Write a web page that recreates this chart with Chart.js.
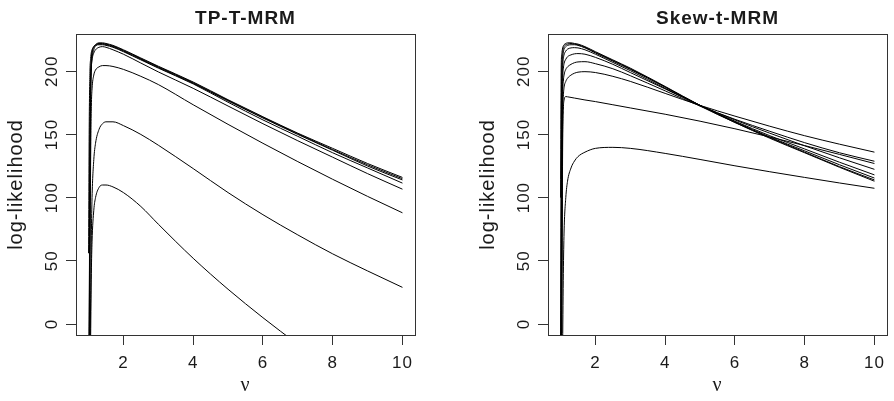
<!DOCTYPE html>
<html>
<head>
<meta charset="utf-8">
<script src="https://cdn.jsdelivr.net/npm/chart.js@4.4.1/dist/chart.umd.min.js"></script>
<style>
  html, body { margin: 0; padding: 0; background: #fff; width: 894px; height: 401px; overflow: hidden; }
  canvas { position: absolute; top: 0; }
  #tp { left: 0; }
  #skew { left: 472px; }
</style>
</head>
<body>
<canvas id="tp" width="422" height="401"></canvas>
<canvas id="skew" width="422" height="401"></canvas>
<script>
// degrees of freedom grid (nu)
const nu = [1.0, 1.02, 1.04, 1.06, 1.08, 1.1, 1.15, 1.2, 1.3, 1.4, 1.5, 1.7, 2, 2.5, 3, 4, 5, 6, 7, 8, 9, 10];
const xTicks = [2, 4, 6, 8, 10];
const yTicks = [0, 50, 100, 150, 200];

// TP-T-MRM log-likelihood profiles
const tpA = [-80, -20, 120, 190, 208, 214, 219, 221, 222.5, 222.5, 222, 220.5, 217, 210.5, 204, 191.5, 177.5, 164, 151, 139, 127, 116];
const tpB = [-60, 10, 150, 196, 210, 215.5, 219.5, 221, 222, 222, 221.5, 220, 216.5, 210, 203.5, 191, 177, 163.5, 150.5, 138, 126, 115];
const tpC = [-90, -40, 90, 175, 202, 210, 217, 220, 221.5, 221.5, 221, 219.5, 216, 209.5, 203, 190.5, 176.5, 163, 150, 137.5, 125, 114];
const tpD = [56, 160, 200, 210, 215, 217, 219.5, 220.5, 221, 221, 220.5, 219, 215.5, 209, 202.5, 190, 175.5, 161.5, 148.5, 135.5, 123.5, 111.5];
const tpE = [-70, 0, 130, 185, 203, 209, 214.5, 217, 219, 219.5, 219, 217, 213.5, 206.5, 199.5, 186.5, 172.5, 158.5, 145, 132, 119, 106.7];
const tpF = [-100, -50, 40, 130, 172, 186, 197, 201, 203.5, 204.5, 204.5, 203.8, 201.5, 196, 189.5, 173.5, 158, 143, 128.5, 114.5, 101, 88];
const tpG = [-120, -80, -30, 20, 70, 100, 130, 143, 154, 158.5, 160, 160, 157, 150, 141.5, 123, 104, 86.5, 70.5, 55.5, 42, 29];
const tpH = [-150, -110, -60, -10, 40, 65, 90, 100, 108, 110, 110, 108.5, 104, 93, 79, 52, 27.5, 5, -16, -36, -54, -71];

// Skew-t-MRM log-likelihood profiles
const stA = [100, 205, 215, 218.5, 220, 221, 222, 222.5, 222.5, 222, 221.5, 219.5, 215.5, 209, 202.5, 188, 173, 159.5, 147, 135.5, 124, 113];
const stB = [-40, 150, 205, 214, 218, 219.5, 221, 221.5, 222, 221.5, 221, 219, 215, 208.5, 202, 187.5, 172.5, 159.5, 147.5, 136, 124.5, 114];
const stC = [-80, 90, 195, 210, 215, 217.5, 219.5, 220.5, 221, 221, 220.5, 218.5, 214.5, 208, 201.5, 187.5, 173, 160, 148, 137, 126, 115.5];
const stD = [-100, 40, 180, 203, 210, 213, 216, 217.5, 218.5, 218.7, 218.5, 217, 213.5, 207, 200.5, 186.5, 173, 160.5, 149, 138.5, 128, 118];
const stE = [-120, -20, 150, 192, 202, 206, 209.5, 211.5, 213, 213.8, 214, 213.5, 211, 205.5, 199, 186, 173, 161.5, 151, 141, 131.5, 122.4];
const stF = [-140, -60, 110, 178, 192, 197, 201.5, 203.5, 205.5, 206.8, 207.4, 207.6, 206, 202, 196.5, 184.5, 172.5, 162, 152.5, 143.5, 135.5, 128.8];
const stG = [-160, -90, 60, 160, 180, 187, 192, 194.5, 197, 198.5, 199.3, 199.7, 199, 196, 192, 182.5, 173, 164.5, 156.5, 149, 142.3, 136];
const stH = [-180, -100, 30, 140, 170, 177, 180, 179.8, 179.3, 178.8, 178.3, 177.3, 176, 173.5, 171, 166, 160.5, 154.5, 148, 141.2, 134.2, 127];
const stI = [-200, -150, -80, -15, 40, 72, 100, 113, 123.5, 129, 132.5, 136, 139, 139.8, 139, 135, 130.2, 125.2, 120.5, 116, 111.6, 107.4];

const tpSeries = [tpA, tpB, tpC, tpD, tpE, tpF, tpG, tpH];
const stSeries = [stA, stB, stC, stD, stE, stF, stG, stH, stI];

// R-like look: box around the plot and rotated y tick labels
const rPlotStyle = {
  id: 'rPlotStyle',
  beforeDraw(chart) {
    chart.ctx.letterSpacing = '1px'; // R's Helvetica renders a bit wider
  },
  afterDraw(chart) {
    const { ctx, chartArea: a, scales: { y } } = chart;
    ctx.save();
    ctx.strokeStyle = '#333';
    ctx.lineWidth = 1;
    ctx.strokeRect(a.left + 0.5, a.top + 0.5, a.width, a.height);

    ctx.fillStyle = '#1a1a1a';
    ctx.font = '17px "Liberation Sans", Arial, sans-serif';
    ctx.textAlign = 'center';
    ctx.textBaseline = 'middle';
    y.ticks.forEach(t => {
      ctx.save();
      ctx.translate(y.right - 24, y.getPixelForValue(t.value));
      ctx.rotate(-Math.PI / 2);
      ctx.fillText(String(t.value), 0, 0);
      ctx.restore();
    });
    ctx.restore();
  }
};

function makePanel(canvasId, title, series) {
  const ctx = document.getElementById(canvasId).getContext('2d');
  return new Chart(ctx, {
    type: 'line',
    data: {
      datasets: series.map(s => ({
        data: nu.map((v, i) => ({ x: v, y: s[i] })),
        borderColor: '#000',
        borderWidth: 1,
        pointRadius: 0,
        fill: false,
        cubicInterpolationMode: 'monotone'
      }))
    },
    options: {
      responsive: false,
      animation: false,
      devicePixelRatio: 1,
      layout: { padding: { left: 0, right: 7, top: 0, bottom: 0 } },
      plugins: {
        legend: { display: false },
        tooltip: { enabled: false },
        title: {
          display: true,
          text: title,
          fullSize: false,
          color: '#1a1a1a',
          font: { family: '"Liberation Sans", Arial, sans-serif', size: 19, weight: 'bold' },
          padding: { top: 7, bottom: 4.2 }
        }
      },
      scales: {
        x: {
          type: 'linear',
          min: 0.64,
          max: 10.36,
          afterBuildTicks: s => { s.ticks = xTicks.map(v => ({ value: v })); },
          afterFit: s => { s.height = 66; },
          grid: { drawOnChartArea: false, tickLength: 10, color: '#333' },
          border: { display: false },
          ticks: {
            autoSkip: false, maxRotation: 0, padding: 8, color: '#1a1a1a',
            font: { family: '"Liberation Sans", Arial, sans-serif', size: 17 }
          },
          title: {
            display: true, text: 'ν', color: '#1a1a1a',
            font: { family: '"Liberation Serif", "DejaVu Serif", serif', size: 20 },
            padding: { top: 0, bottom: 3 }
          }
        },
        y: {
          type: 'linear',
          min: -8.7,
          max: 229.5,
          afterBuildTicks: s => { s.ticks = yTicks.map(v => ({ value: v })); },
          afterFit: s => { s.width = 76; },
          grid: { drawOnChartArea: false, tickLength: 10, color: '#333' },
          border: { display: false },
          ticks: { display: false },
          title: {
            display: true, text: 'log-likelihood', color: '#1a1a1a',
            font: { family: '"Liberation Sans", Arial, sans-serif', size: 20 },
            padding: { top: 4, bottom: 0 }
          }
        }
      }
    },
    plugins: [rPlotStyle]
  });
}

makePanel('tp', 'TP-T-MRM', tpSeries);
makePanel('skew', 'Skew-t-MRM', stSeries);
</script>
</body>
</html>
